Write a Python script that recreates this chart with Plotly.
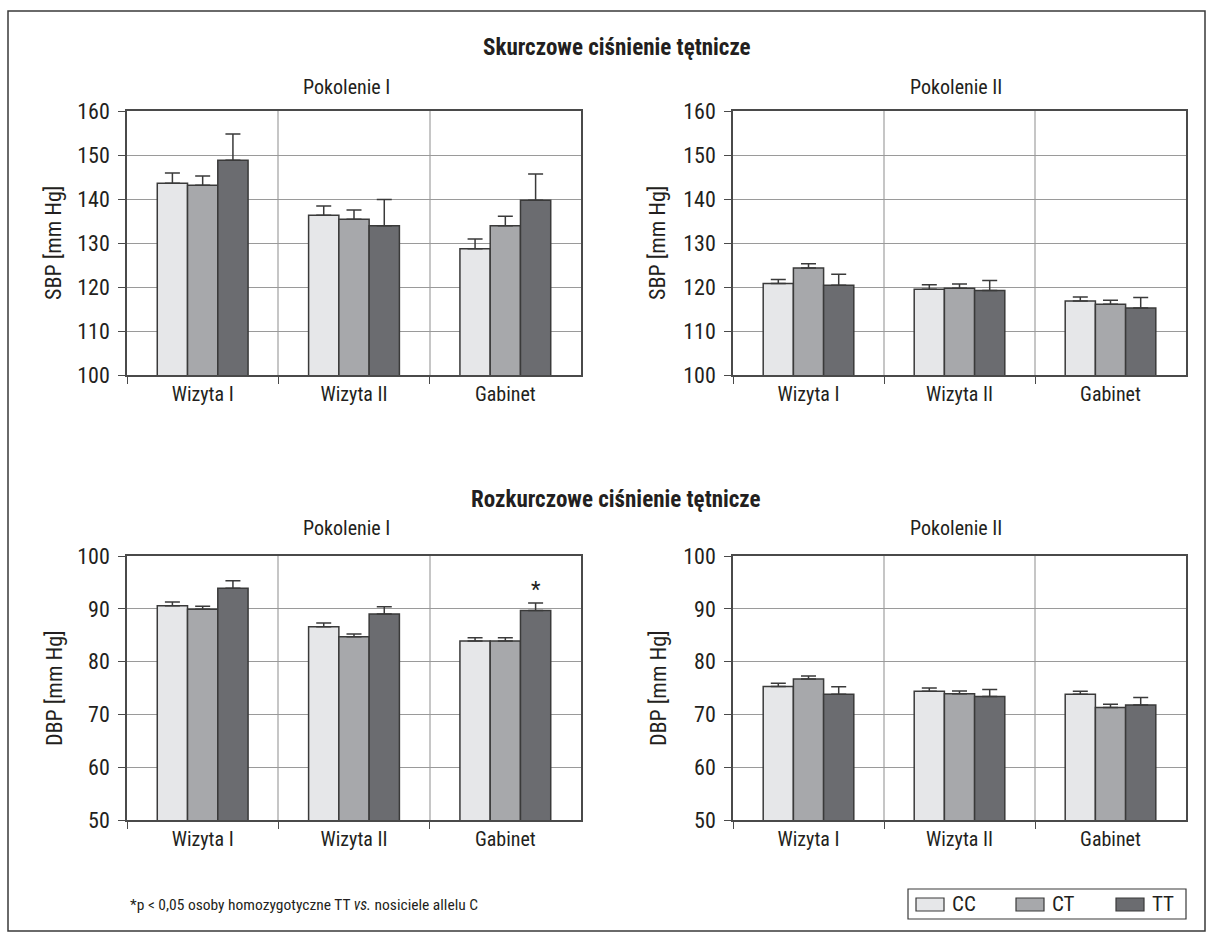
import plotly.graph_objects as go

# Categories and genotype groups
visits = ["Wizyta I", "Wizyta II", "Gabinet"]
genotypes = ["CC", "CT", "TT"]
genotype_colors = ["#e6e7e9", "#a7a8ab", "#6b6c70"]

# Systolic pressure, generation I (rows: CC, CT, TT)
sbp_gen1 = [[143.6, 136.3, 128.7],
            [143.1, 135.4, 133.9],
            [148.8, 133.9, 139.7]]
sbp_gen1_err = [[2.3, 2.1, 2.2],
                [2.1, 2.1, 2.2],
                [6.0, 6.0, 6.0]]

# Systolic pressure, generation II
sbp_gen2 = [[120.8, 119.5, 116.8],
            [124.3, 119.7, 116.1],
            [120.4, 119.2, 115.2]]
sbp_gen2_err = [[0.9, 1.0, 0.9],
                [1.0, 1.0, 0.9],
                [2.5, 2.3, 2.4]]

# Diastolic pressure, generation I
dbp_gen1 = [[90.6, 86.6, 83.9],
            [89.9, 84.7, 83.9],
            [93.9, 89.0, 89.7]]
dbp_gen1_err = [[0.7, 0.7, 0.6],
                [0.6, 0.55, 0.6],
                [1.4, 1.4, 1.4]]

# Diastolic pressure, generation II
dbp_gen2 = [[75.3, 74.4, 73.8],
            [76.7, 73.9, 71.3],
            [73.8, 73.4, 71.8]]
dbp_gen2_err = [[0.6, 0.6, 0.6],
                [0.55, 0.55, 0.6],
                [1.45, 1.3, 1.4]]

W, H = 1213, 944
FONT = "Liberation Sans Narrow, Arial Narrow, Roboto Condensed, Liberation Sans, sans-serif"
DARK = "#3a3a3a"
TEXT = "#231f20"


def px(x):
    return x / W


def py(y):
    return 1 - y / H


fig = go.Figure()

panels = [
    (sbp_gen1, sbp_gen1_err, "x", "y"),
    (sbp_gen2, sbp_gen2_err, "x2", "y2"),
    (dbp_gen1, dbp_gen1_err, "x3", "y3"),
    (dbp_gen2, dbp_gen2_err, "x4", "y4"),
]

for means, errs, xa, ya in panels:
    for g, name in enumerate(genotypes):
        fig.add_trace(go.Bar(
            x=visits, y=means[g], name=name, xaxis=xa, yaxis=ya,
            marker=dict(color=genotype_colors[g], line=dict(color=DARK, width=1.5)),
            error_y=dict(type="data", array=errs[g], symmetric=False,
                         arrayminus=[0] * len(errs[g]),
                         color=DARK, thickness=1.5, width=7.5),
            showlegend=False,
        ))

# Plot-area rectangles in pixels: (left, right, top, bottom)
boxes = {
    "1": (127, 581, 111, 375),
    "2": (733, 1186, 111, 375),
    "3": (127, 581, 556, 820),
    "4": (733, 1186, 556, 820),
}
ranges = {"1": [100, 160], "2": [100, 160], "3": [50, 100], "4": [50, 100]}

layout = dict(
    template="none",
    width=W, height=H,
    margin=dict(l=0, r=0, t=0, b=0, autoexpand=False),
    paper_bgcolor="white", plot_bgcolor="white",
    barmode="group", bargap=0.4, bargroupgap=0,
    font=dict(family=FONT, size=20, color=TEXT),
    showlegend=False,
)

for k, (l, r, t, b) in boxes.items():
    sfx = "" if k == "1" else k
    layout["xaxis" + sfx] = dict(
        domain=[px(l), px(r)], anchor="y" + sfx, automargin=False,
        type="category", tickson="boundaries",
        showgrid=True, gridcolor="#c6c6c6", gridwidth=1.5,
        showline=True, linecolor="#4a4a4a", linewidth=1.5, mirror=True,
        ticks="outside", ticklen=7, tickwidth=1.2, tickcolor="#4a4a4a",
        tickfont=dict(family=FONT, size=20, color=TEXT),
        fixedrange=True,
    )
    layout["yaxis" + sfx] = dict(
        domain=[py(b), py(t)], anchor="x" + sfx, automargin=False,
        range=ranges[k], dtick=10,
        showgrid=True, gridcolor="#9a9a9a", gridwidth=1.2,
        showline=True, linecolor="#4a4a4a", linewidth=1.5, mirror=True,
        ticks="outside", ticklen=7, tickwidth=1.2, tickcolor="#4a4a4a",
        ticklabelstandoff=4,
        tickfont=dict(family=FONT, size=22, color=TEXT),
        zeroline=False, fixedrange=True,
    )

fig.update_layout(**layout)

annotations = []


def text(x, y, s, size=20, bold=False, angle=0, xanchor="center"):
    annotations.append(dict(
        x=px(x), y=py(y), xref="paper", yref="paper",
        text=f"<b>{s}</b>" if bold else s, showarrow=False,
        textangle=angle, xanchor=xanchor, yanchor="middle",
        font=dict(family=FONT, size=size, color=TEXT),
    ))


# Section and panel titles
text(617, 48, "Skurczowe ciśnienie tętnicze", size=23, bold=True)
text(616, 499, "Rozkurczowe ciśnienie tętnicze", size=23, bold=True)
for cy in (87, 528):
    text(347, cy, "Pokolenie I")
    text(956, cy, "Pokolenie II")

# Y-axis titles
text(54, 243, "SBP [mm Hg]", size=22, angle=-90)
text(658, 243, "SBP [mm Hg]", size=22, angle=-90)
text(54, 688, "DBP [mm Hg]", size=22, angle=-90)
text(658, 688, "DBP [mm Hg]", size=22, angle=-90)

# Significance mark above TT bar at the office visit, generation I
annotations.append(dict(
    x="Gabinet", y=dbp_gen1[2][2] + dbp_gen1_err[2][2], xref="x3", yref="y3",
    xshift=30.2, yshift=-1, text="*", showarrow=False, yanchor="bottom",
    font=dict(family=FONT, size=22, color=TEXT),
))

# Footnote
text(128, 905, "*p &lt; 0,05 osoby homozygotyczne TT <i>vs.</i> nosiciele allelu C",
     size=15.5, xanchor="left")

shapes = []
# Outer frame
shapes.append(dict(type="rect", xref="paper", yref="paper",
                   x0=px(8), x1=px(1205), y0=py(931), y1=py(11),
                   line=dict(color="#3a3a3a", width=1.5)))

# Legend box with wide swatches
shapes.append(dict(type="rect", xref="paper", yref="paper",
                   x0=px(908), x1=px(1186), y0=py(919), y1=py(889),
                   line=dict(color="#3a3a3a", width=1.2), fillcolor="white"))
for i, (name, col) in enumerate(zip(genotypes, genotype_colors)):
    sx = 916 + i * 100
    shapes.append(dict(type="rect", xref="paper", yref="paper",
                       x0=px(sx), x1=px(sx + 28), y0=py(911), y1=py(898),
                       line=dict(color=DARK, width=1.2), fillcolor=col))
    text(sx + 34, 904, name, size=21, xanchor="left")

fig.update_layout(annotations=annotations, shapes=shapes)

fig.write_html("out.html")
